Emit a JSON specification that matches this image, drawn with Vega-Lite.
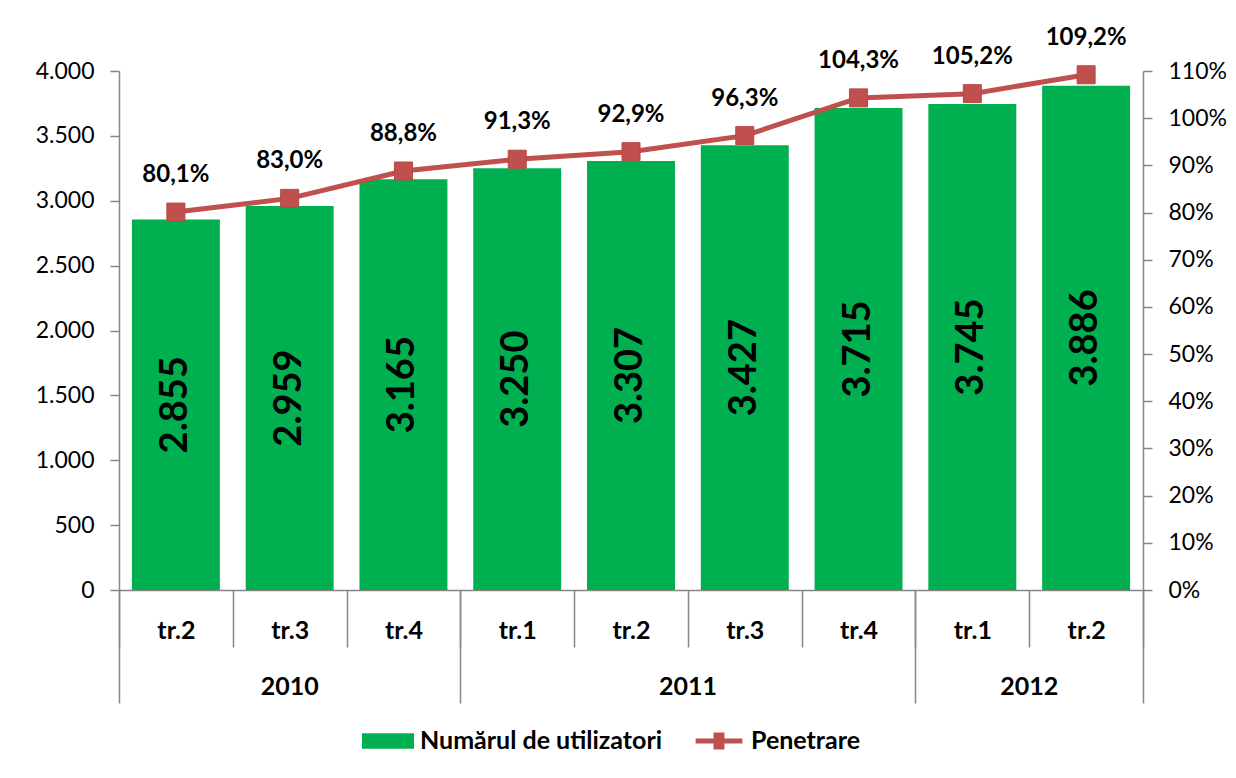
{
  "$schema": "https://vega.github.io/schema/vega-lite/v6.json",
  "width": 1024,
  "height": 519,
  "autosize": {"type": "none"},
  "padding": {"left": 119, "top": 71, "right": 93, "bottom": 188},
  "background": "white",
  "config": {
    "font": "Lato",
    "locale": {"number": {"decimal": ",", "thousands": ".", "grouping": [3], "currency": ["", ""]}},
    "view": {"stroke": null},
    "axis": {"domainColor": "#868686", "tickColor": "#868686", "labelColor": "black", "domainWidth": 1.5, "tickWidth": 1.5, "grid": false, "labelFont": "Lato"}
  },
  "data": {
    "values": [
      {"key": "2010 tr.2", "users": 2855, "pen": 0.801},
      {"key": "2010 tr.3", "users": 2959, "pen": 0.830},
      {"key": "2010 tr.4", "users": 3165, "pen": 0.888},
      {"key": "2011 tr.1", "users": 3250, "pen": 0.913},
      {"key": "2011 tr.2", "users": 3307, "pen": 0.929},
      {"key": "2011 tr.3", "users": 3427, "pen": 0.963},
      {"key": "2011 tr.4", "users": 3715, "pen": 1.043},
      {"key": "2012 tr.1", "users": 3745, "pen": 1.052},
      {"key": "2012 tr.2", "users": 3886, "pen": 1.092}
    ]
  },
  "resolve": {"scale": {"y": "independent"}, "axis": {"x": "independent", "y": "independent"}},
  "layer": [
    {
      "mark": {"type": "bar", "width": {"band": 0.773}},
      "encoding": {
        "x": {
          "field": "key", "type": "nominal", "sort": null,
          "scale": {"paddingInner": 0, "paddingOuter": 0},
          "axis": {
            "orient": "bottom", "title": null,
            "labelExpr": "split(datum.label, ' ')[1]",
            "labelAngle": 0, "tickBand": "extent", "tickSize": 57,
            "labelPadding": -9, "labelBaseline": "alphabetic",
            "labelFontSize": 25, "labelFontWeight": "bold"
          }
        },
        "y": {
          "field": "users", "type": "quantitative",
          "scale": {"domain": [0, 4000], "nice": false},
          "axis": {"orient": "left", "title": null, "values": [0, 500, 1000, 1500, 2000, 2500, 3000, 3500, 4000], "format": ",.0f", "tickSize": 9, "labelPadding": 16, "labelFontSize": 23}
        },
        "color": {
          "datum": "Numărul de utilizatori", "type": "nominal",
          "scale": {"domain": ["Numărul de utilizatori", "Penetrare"], "range": ["#00B050", "#C0504D"]},
          "legend": {
            "title": null, "orient": "none", "legendX": 243, "legendY": 644,
            "direction": "horizontal", "symbolSize": 2704,
            "labelFontSize": 25, "labelFontWeight": "bold", "labelColor": "black", "labelFont": "Lato",
            "labelOffset": 6, "columnPadding": 30, "labelLimit": 500,
            "encode": {"symbols": {"update": {
              "shape": {"signal": "datum.value === 'Penetrare' ? 'M-0.9,-0.1H0.9V0.1H-0.9Z M-0.21,-0.33H0.21V0.33H-0.21Z' : 'M-1,-0.3H1V0.3H-1Z'"},
              "fill": {"signal": "datum.value === 'Penetrare' ? '#C0504D' : '#00B050'"},
              "stroke": {"value": "transparent"},
              "strokeWidth": {"value": 0},
              "opacity": {"value": 1},
              "fillOpacity": {"value": 1}
            }}}
          }
        }
      }
    },
    {
      "mark": {"type": "text", "angle": 270, "fontSize": 38, "fontWeight": "bold", "color": "black", "baseline": "middle", "align": "center"},
      "encoding": {
        "x": {
          "field": "key", "type": "nominal", "sort": null,
          "axis": {"orient": "bottom", "title": null, "values": ["2010 tr.3"], "labelExpr": "split(datum.label, ' ')[0]", "labelAngle": 0, "ticks": false, "domain": false, "labelPadding": 104, "labelBaseline": "alphabetic", "labelFontSize": 25, "labelFontWeight": "bold"}
        },
        "y": {"field": "users", "type": "quantitative", "scale": {"domain": [0, 8000], "nice": false}, "axis": null},
        "text": {"field": "users", "type": "quantitative", "format": ","}
      }
    },
    {
      "mark": {"type": "line", "strokeWidth": 5},
      "encoding": {
        "x": {
          "field": "key", "type": "nominal", "sort": null,
          "axis": {"orient": "bottom", "title": null, "values": ["2011 tr.2", "2012 tr.1"], "labelOffset": 56.89, "labelExpr": "split(datum.label, ' ')[0]", "labelAngle": 0, "ticks": false, "domain": false, "labelPadding": 104, "labelBaseline": "alphabetic", "labelFontSize": 25, "labelFontWeight": "bold"}
        },
        "y": {
          "field": "pen", "type": "quantitative",
          "scale": {"domain": [0, 1.1], "nice": false},
          "axis": {"orient": "right", "title": null, "values": [0, 0.1, 0.2, 0.3, 0.4, 0.5, 0.6, 0.7, 0.8, 0.9, 1.0, 1.1], "format": ".0%", "tickSize": 9, "labelPadding": 16, "labelFontSize": 23}
        },
        "color": {"datum": "Penetrare", "type": "nominal"}
      }
    },
    {
      "mark": {"type": "square", "size": 324, "filled": true, "opacity": 1, "color": "#C0504D", "stroke": "#B84744", "strokeWidth": 1},
      "encoding": {
        "x": {
          "field": "key", "type": "nominal", "sort": null,
          "axis": {"orient": "bottom", "title": null, "values": ["2010 tr.4", "2011 tr.4", "2012 tr.2"], "tickOffset": 56.89, "tickSize": 113, "labels": false, "domain": false}
        },
        "y": {"field": "pen", "type": "quantitative", "scale": {"domain": [0, 1.1], "nice": false}, "axis": null}
      }
    },
    {
      "mark": {"type": "text", "dy": -37, "fontSize": 24, "fontWeight": "bold", "color": "black", "baseline": "middle", "align": "center"},
      "encoding": {
        "x": {
          "field": "key", "type": "nominal", "sort": null,
          "axis": {"orient": "bottom", "title": null, "values": ["2010 tr.2"], "tickOffset": -56.89, "tickSize": 113, "labels": false, "domain": false}
        },
        "y": {"field": "pen", "type": "quantitative", "scale": {"domain": [0, 1.1], "nice": false}, "axis": null},
        "text": {"field": "pen", "type": "quantitative", "format": ".1%"}
      }
    }
  ]
}
